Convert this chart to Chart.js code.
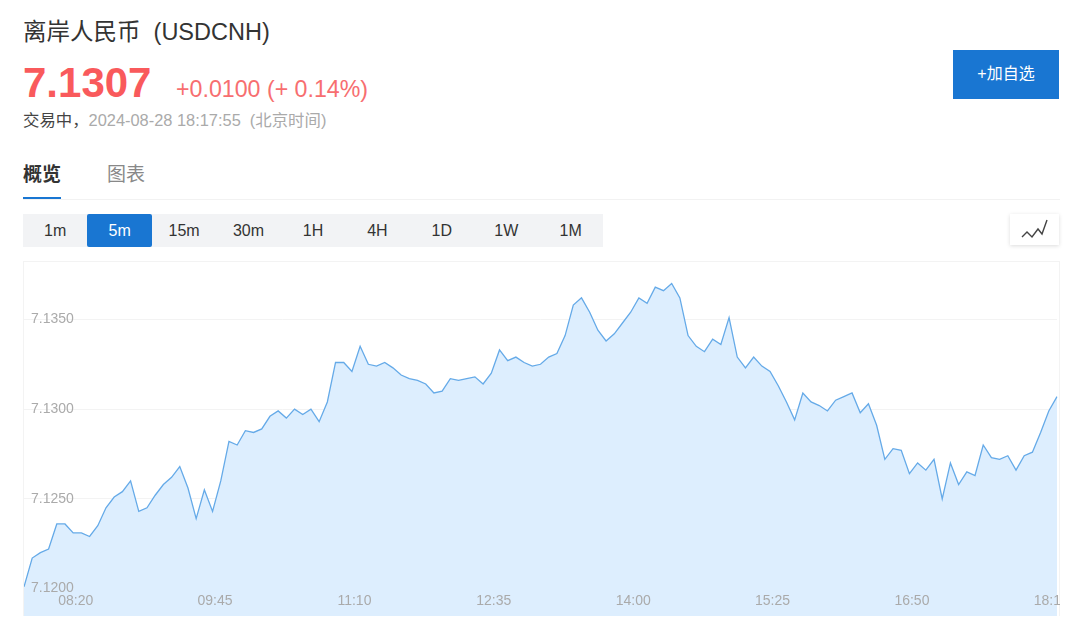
<!DOCTYPE html>
<html lang="zh-CN">
<head>
<meta charset="utf-8">
<title>离岸人民币 (USDCNH)</title>
<script src="https://cdn.jsdelivr.net/npm/chart.js@4/dist/chart.umd.min.js"></script>
<style>
    html, body { margin: 0; padding: 0; background: #fff; }
    body {
        position: relative;
        width: 1080px;
        height: 623px;
        overflow: hidden;
        font-family: "Liberation Sans", "Noto Sans CJK SC", sans-serif;
        color: #333;
    }
    .abs { position: absolute; white-space: pre; line-height: 1; }
    .title { left: 23px; top: 21px; font-size: 23.5px; color: #333; }
    .price { left: 23px; top: 62px; font-size: 42px; font-weight: bold; color: #f95a5c; }
    .change { left: 176px; top: 78px; font-size: 23.2px; color: #f76e70; }
    .status { left: 23px; top: 112px; font-size: 16.4px; color: #aaa; }
    .status b { font-weight: normal; color: #444; }
    .tab { top: 165px; font-size: 19px; color: #888; }
    .tab.on { left: 23px; font-weight: bold; color: #333; }
    .tab-line { position: absolute; left: 23px; top: 199px; width: 1037px; height: 1px; background: #f2f2f2; }
    .tab-mark { position: absolute; left: 23px; top: 197px; width: 38px; height: 2px; background: #1976d2; }
    .add-btn {
        position: absolute; left: 953px; top: 50px; width: 106px; height: 49px;
        background: #1976d2; color: #fff; font-size: 16px; line-height: 47px; text-align: center;
    }
    .periods {
        position: absolute; left: 23px; top: 214px; width: 580px; height: 33px;
        background: #f2f3f5; display: flex;
    }
    .periods span {
        width: 64.44px; text-align: center; font-size: 16px; line-height: 33px; color: #333;
    }
    .periods span.on { background: #1976d2; color: #fff; border-radius: 2px; }
    .icon-btn {
        position: absolute; left: 1010px; top: 214px; width: 49px; height: 31px;
        background: #fff; box-shadow: 0 1px 4px rgba(0, 0, 0, 0.14);
    }
    .chart-box {
        position: absolute; left: 23px; top: 261px; width: 1037px; height: 355px;
        border: 1px solid #f3f3f3; border-bottom: 0; box-sizing: border-box;
    }
    canvas { position: absolute; left: 24px; top: 262px; }
</style>
</head>
<body>
    <div class="abs title">离岸人民币  (USDCNH)</div>
    <div class="abs price">7.1307</div>
    <div class="abs change">+0.0100 (+ 0.14%)</div>
    <div class="abs status"><b>交易中，</b>2024-08-28 18:17:55  (北京时间)</div>
    <div class="abs tab on">概览</div>
    <div class="abs tab" style="left:107px">图表</div>
    <div class="tab-line"></div>
    <div class="tab-mark"></div>
    <div class="add-btn">+加自选</div>
    <div class="periods" id="periods"></div>
    <div class="icon-btn">
        <svg width="49" height="31" viewBox="0 0 49 31">
            <polyline points="12,23 17,18 22,23 28,15 32,20 37,6" fill="none" stroke="#444" stroke-width="1.4"/>
        </svg>
    </div>
    <div class="chart-box"></div>
    <canvas id="priceChart" width="1036" height="354"></canvas>

<script>
    // Period buttons above the chart
    const periods = ['1m', '5m', '15m', '30m', '1H', '4H', '1D', '1W', '1M'];
    const activePeriod = '5m';

    // 5 minute bars
    const categories = [
        '07:50', '07:55',
        '08:00', '08:05', '08:10', '08:15', '08:20', '08:25', '08:30', '08:35', '08:40', '08:45', '08:50', '08:55',
        '09:00', '09:05', '09:10', '09:15', '09:20', '09:25', '09:30', '09:35', '09:40', '09:45', '09:50', '09:55',
        '10:00', '10:05', '10:10', '10:15', '10:20', '10:25', '10:30', '10:35', '10:40', '10:45', '10:50', '10:55',
        '11:00', '11:05', '11:10', '11:15', '11:20', '11:25', '11:30', '11:35', '11:40', '11:45', '11:50', '11:55',
        '12:00', '12:05', '12:10', '12:15', '12:20', '12:25', '12:30', '12:35', '12:40', '12:45', '12:50', '12:55',
        '13:00', '13:05', '13:10', '13:15', '13:20', '13:25', '13:30', '13:35', '13:40', '13:45', '13:50', '13:55',
        '14:00', '14:05', '14:10', '14:15', '14:20', '14:25', '14:30', '14:35', '14:40', '14:45', '14:50', '14:55',
        '15:00', '15:05', '15:10', '15:15', '15:20', '15:25', '15:30', '15:35', '15:40', '15:45', '15:50', '15:55',
        '16:00', '16:05', '16:10', '16:15', '16:20', '16:25', '16:30', '16:35', '16:40', '16:45', '16:50', '16:55',
        '17:00', '17:05', '17:10', '17:15', '17:20', '17:25', '17:30', '17:35', '17:40', '17:45', '17:50', '17:55',
        '18:00', '18:05', '18:10', '18:15', '18:20'
    ];

    const prices = [
        7.1201, 7.1217, 7.1220, 7.1222, 7.1236, 7.1236, 7.1231, 7.1231, 7.1229, 7.1235,
        7.1245, 7.1251, 7.1254, 7.1260, 7.1243, 7.1245, 7.1252, 7.1258, 7.1262, 7.1268,
        7.1256, 7.1239, 7.1255, 7.1243, 7.1260, 7.1282, 7.1280, 7.1288, 7.1287, 7.1289,
        7.1296, 7.1299, 7.1295, 7.1300, 7.1297, 7.1300, 7.1293, 7.1304, 7.1326, 7.1326,
        7.1321, 7.1335, 7.1325, 7.1324, 7.1326, 7.1323, 7.1319, 7.1317, 7.1316, 7.1314,
        7.1309, 7.1310, 7.1317, 7.1316, 7.1317, 7.1318, 7.1314, 7.1320, 7.1333, 7.1327,
        7.1329, 7.1326, 7.1324, 7.1325, 7.1329, 7.1331, 7.1341, 7.1358, 7.1362, 7.1354,
        7.1344, 7.1338, 7.1342, 7.1348, 7.1354, 7.1362, 7.1359, 7.1368, 7.1366, 7.1370,
        7.1362, 7.1341, 7.1335, 7.1332, 7.1339, 7.1336, 7.1351, 7.1329, 7.1323, 7.1329,
        7.1324, 7.1321, 7.1313, 7.1304, 7.1294, 7.1309, 7.1304, 7.1302, 7.1299, 7.1305,
        7.1307, 7.1309, 7.1298, 7.1303, 7.1291, 7.1272, 7.1278, 7.1277, 7.1264, 7.1270,
        7.1266, 7.1272, 7.1250, 7.1270, 7.1258, 7.1265, 7.1263, 7.1280, 7.1273, 7.1272,
        7.1274, 7.1266, 7.1274, 7.1276, 7.1287, 7.1299, 7.1307
    ];

    const xTickLabels = ['08:20', '09:45', '11:10', '12:35', '14:00', '15:25', '16:50', '18:15'];
    const yTickValues = [7.1200, 7.1250, 7.1300, 7.1350];

    // Build the period buttons
    const periodBar = document.getElementById('periods');
    periods.forEach(p => {
        const item = document.createElement('span');
        item.textContent = p;
        if (p === activePeriod) item.className = 'on';
        periodBar.appendChild(item);
    });

    // Axis labels sit inside the plot here, so the axes reserve no room at all
    const noRoom = scale => {
        if (scale.isHorizontal()) scale.height = 0;
        else scale.width = 0;
        scale.paddingTop = 0;
        scale.paddingBottom = 0;
        scale.paddingLeft = 0;
        scale.paddingRight = 0;
    };

    new Chart(document.getElementById('priceChart'), {
        type: 'line',
        data: {
            labels: categories,
            datasets: [{
                data: prices,
                borderColor: '#65aae8',
                borderWidth: 1.3,
                backgroundColor: '#ddeefe',
                fill: 'start',
                pointRadius: 0,
                tension: 0
            }]
        },
        options: {
            responsive: false,
            animation: false,
            layout: { autoPadding: false, padding: { left: 0, right: 3, top: 0, bottom: 0 } },
            plugins: { legend: { display: false }, tooltip: { enabled: false } },
            scales: {
                x: {
                    // pin the time labels just under the 7.1200 line
                    position: { y: 7.11975 },
                    border: { display: false },
                    grid: { display: false, drawTicks: false },
                    afterFit: noRoom,
                    ticks: {
                        autoSkip: false,
                        maxRotation: 0,
                        minRotation: 0,
                        padding: 0,
                        labelOffset: 2.5,
                        z: 1,
                        color: '#aaa',
                        font: { family: '"Liberation Sans"', size: 14 },
                        callback(value) {
                            const label = this.getLabelForValue(value);
                            return xTickLabels.includes(label) ? label : '';
                        }
                    }
                },
                y: {
                    min: 7.11847,
                    max: 7.1382,
                    border: { display: false },
                    grid: { color: '#f3f3f3', drawTicks: false },
                    afterFit: noRoom,
                    afterBuildTicks: scale => {
                        scale.ticks = yTickValues.map(v => ({ value: v }));
                    },
                    ticks: {
                        mirror: true,
                        padding: 7,
                        z: 1,
                        color: '#aaa',
                        font: { family: '"Liberation Sans"', size: 14 },
                        callback: value => value.toFixed(4)
                    }
                }
            }
        }
    });
</script>
</body>
</html>
